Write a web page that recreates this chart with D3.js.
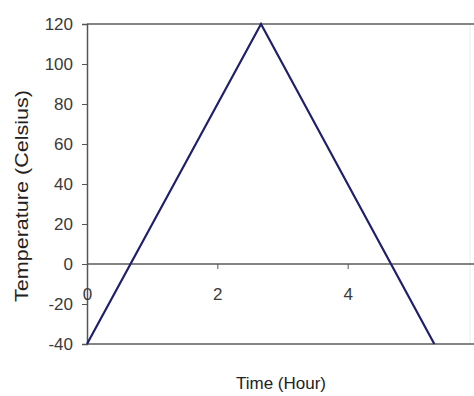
<!DOCTYPE html>
<html>
<head>
<meta charset="utf-8">
<script src="https://cdn.jsdelivr.net/npm/d3@7"></script>
<style>
  body { margin: 0; background: #fff; }
  svg { display: block; font-family: "Liberation Sans", Arial, sans-serif; }
</style>
</head>
<body>
<div id="vis"></div>
<script>
const WIDTH = 474;
const HEIGHT = 396;
const MARGIN = {left: 87, top: 24, bottom: 52};

// data
const timeHours = [0, 2.67, 5.33];
const tempCelsius = [-40, 120, -40];
const xTicks = [0, 2, 4, 6];
const yTicks = [-40, -20, 0, 20, 40, 60, 80, 100, 120];

const FRAME = d3.select("#vis")
  .append("svg")
    .attr("width", WIDTH)
    .attr("height", HEIGHT);

const X_SCALE = d3.scaleLinear()
  .domain([0, 6])
  .range([MARGIN.left, MARGIN.left + 391]);

const Y_SCALE = d3.scaleLinear()
  .domain([-40, 120])
  .range([HEIGHT - MARGIN.bottom, MARGIN.top]);

// plain hyphen minus like the original
const fmt = (d) => String(d);

// faint plot border on the right
FRAME.append("line")
  .attr("x1", 470).attr("x2", 470)
  .attr("y1", Y_SCALE(120)).attr("y2", Y_SCALE(-40))
  .attr("stroke", "#ececec").attr("stroke-width", 1);

// top and bottom horizontal lines
[120, -40].forEach((v) => {
  FRAME.append("line")
    .attr("x1", MARGIN.left).attr("x2", WIDTH)
    .attr("y1", Y_SCALE(v)).attr("y2", Y_SCALE(v))
    .attr("stroke", "#858585").attr("stroke-width", 2);
});

// y axis
const yAxis = FRAME.append("g")
  .attr("transform", "translate(" + MARGIN.left + ",0)")
  .call(d3.axisLeft(Y_SCALE).tickValues(yTicks).tickFormat(fmt).tickSize(5).tickPadding(9));
yAxis.select(".domain").attr("stroke", "#555").attr("stroke-width", 1.5);
yAxis.selectAll(".tick line").attr("stroke", "#555");
yAxis.selectAll("text")
  .attr("font-size", "17px")
  .attr("fill", "#3a3a3a")
  .attr("font-family", "Liberation Sans, Arial, sans-serif");

// x axis on the zero line
const xAxis = FRAME.append("g")
  .attr("transform", "translate(0," + Y_SCALE(0) + ")")
  .call(d3.axisBottom(X_SCALE).tickValues(xTicks).tickFormat(fmt).tickSize(5).tickPadding(19));
xAxis.select(".domain").remove();
xAxis.append("line")
  .attr("x1", MARGIN.left).attr("x2", WIDTH)
  .attr("stroke", "#5a5a5a").attr("stroke-width", 1.5);
xAxis.selectAll(".tick line").attr("stroke", "#555");
xAxis.selectAll(".tick").filter((d) => d === 0).select("line").remove();
xAxis.selectAll("text")
  .attr("font-size", "17px")
  .attr("fill", "#3a3a3a")
  .attr("font-family", "Liberation Sans, Arial, sans-serif");

// the temperature line
const line = d3.line()
  .x((d, i) => X_SCALE(timeHours[i]))
  .y((d) => Y_SCALE(d));

FRAME.append("path")
  .datum(tempCelsius)
  .attr("d", line)
  .attr("fill", "none")
  .attr("stroke", "#1f1f6b")
  .attr("stroke-width", 2.2)
  .attr("stroke-linejoin", "miter");

// axis titles
FRAME.append("text")
  .attr("x", 281)
  .attr("y", 389)
  .attr("text-anchor", "middle")
  .attr("font-size", "17px")
  .attr("fill", "#222")
  .text("Time (Hour)");

FRAME.append("text")
  .attr("transform", "translate(28," + 196 + ") rotate(-90)")
  .attr("text-anchor", "middle")
  .attr("font-size", "17.5px")
  .attr("textLength", 212)
  .attr("lengthAdjust", "spacingAndGlyphs")
  .attr("fill", "#222")
  .text("Temperature (Celsius)");
</script>
</body>
</html>
